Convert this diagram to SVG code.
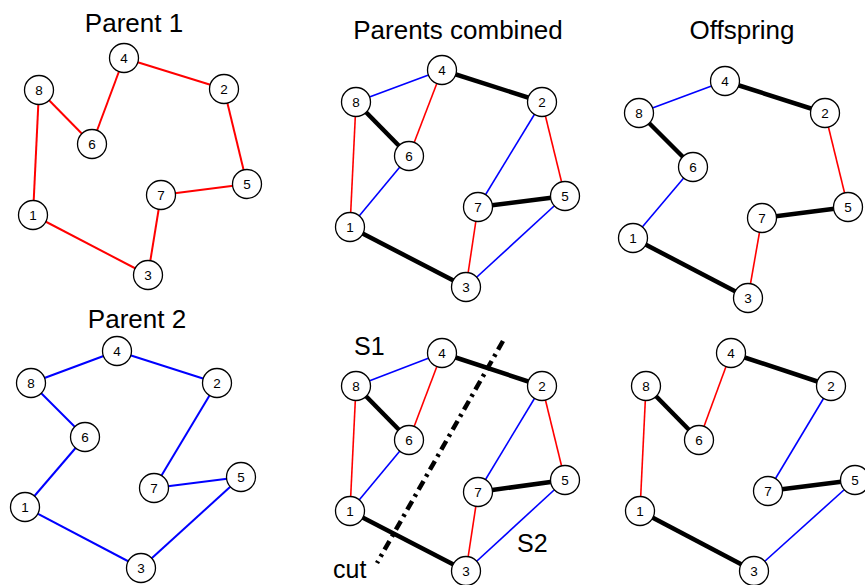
<svg xmlns="http://www.w3.org/2000/svg" width="865" height="585" viewBox="0 0 865 585">
  <style>
    .title { font-family: "Liberation Sans", Arial, sans-serif; font-size: 26px; fill: #000; text-anchor: middle; }
    .lbl { font-family: "Liberation Sans", Arial, sans-serif; font-size: 25px; fill: #000; }
    .node circle { fill: #fff; stroke: #000; stroke-width: 1.3; }
    .node text { font-family: "Liberation Sans", Arial, sans-serif; font-size: 13.5px; fill: #000; text-anchor: middle; dominant-baseline: central; }
    .red { stroke: #ff0000; stroke-width: 1.6; fill: none; }
    .red2 { stroke: #ff0000; stroke-width: 2; fill: none; }
    .blue { stroke: #0000ff; stroke-width: 1.6; fill: none; }
    .blue2 { stroke: #0000ff; stroke-width: 2; fill: none; }
    .both { stroke: #000; stroke-width: 4.5; fill: none; }
    .cut { stroke: #000; stroke-width: 4.5; fill: none; stroke-dasharray: 10 5 3 5; }
  </style>

  <!-- panel titles -->
  <text class="title" x="134" y="32">Parent 1</text>
  <text class="title" x="458" y="39">Parents combined</text>
  <text class="title" x="742" y="39">Offspring</text>
  <text class="title" x="137" y="328">Parent 2</text>
  <text class="lbl" x="354" y="355">S1</text>
  <text class="lbl" x="517" y="552">S2</text>
  <text class="lbl" x="333" y="578">cut</text>

  <g id="connectors">
    <!-- Parent 1: 1-8-6-4-2-5-7-3-1 -->
    <g id="p1-edges">
      <line class="red2" x1="33" y1="215" x2="39" y2="90"/>
      <line class="red2" x1="39" y1="90" x2="92" y2="144"/>
      <line class="red2" x1="92" y1="144" x2="124" y2="58"/>
      <line class="red2" x1="124" y1="58" x2="224" y2="89"/>
      <line class="red2" x1="224" y1="89" x2="247" y2="184"/>
      <line class="red2" x1="247" y1="184" x2="161" y2="195"/>
      <line class="red2" x1="161" y1="195" x2="148" y2="275"/>
      <line class="red2" x1="148" y1="275" x2="33" y2="215"/>
    </g>
    <!-- Parent 2: 8-4-2-7-5-3-1-6-8 -->
    <g id="p2-edges">
      <line class="blue2" x1="31" y1="383" x2="117" y2="351"/>
      <line class="blue2" x1="117" y1="351" x2="217" y2="383"/>
      <line class="blue2" x1="217" y1="383" x2="154" y2="488"/>
      <line class="blue2" x1="154" y1="488" x2="241" y2="477"/>
      <line class="blue2" x1="241" y1="477" x2="141" y2="568"/>
      <line class="blue2" x1="141" y1="568" x2="25" y2="507"/>
      <line class="blue2" x1="25" y1="507" x2="85" y2="437"/>
      <line class="blue2" x1="85" y1="437" x2="31" y2="383"/>
    </g>
    <!-- Parents combined -->
    <g id="pc-edges">
      <line class="blue" x1="356" y1="102" x2="442" y2="70"/>
      <line class="red" x1="442" y1="70" x2="409" y2="156"/>
      <line class="both" x1="442" y1="70" x2="542" y2="102"/>
      <line class="both" x1="356" y1="102" x2="409" y2="156"/>
      <line class="red" x1="356" y1="102" x2="350" y2="227"/>
      <line class="blue" x1="409" y1="156" x2="350" y2="227"/>
      <line class="both" x1="350" y1="227" x2="466" y2="287"/>
      <line class="blue" x1="542" y1="102" x2="478" y2="207"/>
      <line class="red" x1="542" y1="102" x2="565" y2="196"/>
      <line class="both" x1="478" y1="207" x2="565" y2="196"/>
      <line class="red" x1="478" y1="207" x2="466" y2="287"/>
      <line class="blue" x1="565" y1="196" x2="466" y2="287"/>
    </g>
    <!-- Offspring -->
    <g id="os-edges">
      <line class="blue" x1="639" y1="113" x2="725" y2="81"/>
      <line class="both" x1="725" y1="81" x2="825" y2="113"/>
      <line class="both" x1="639" y1="113" x2="693" y2="167"/>
      <line class="blue" x1="693" y1="167" x2="633" y2="238"/>
      <line class="both" x1="633" y1="238" x2="748" y2="298"/>
      <line class="red" x1="748" y1="298" x2="762" y2="218"/>
      <line class="both" x1="762" y1="218" x2="848" y2="207"/>
      <line class="red" x1="848" y1="207" x2="825" y2="113"/>
    </g>
    <!-- Cut view -->
    <g id="cut-edges">
      <line class="blue" x1="356" y1="386" x2="442" y2="353"/>
      <line class="red" x1="442" y1="353" x2="409" y2="440"/>
      <line class="both" x1="442" y1="353" x2="542" y2="386"/>
      <line class="both" x1="356" y1="386" x2="409" y2="440"/>
      <line class="red" x1="356" y1="386" x2="350" y2="511"/>
      <line class="blue" x1="409" y1="440" x2="350" y2="511"/>
      <line class="both" x1="350" y1="511" x2="466" y2="571"/>
      <line class="blue" x1="542" y1="386" x2="478" y2="492"/>
      <line class="red" x1="542" y1="386" x2="565" y2="480"/>
      <line class="both" x1="478" y1="492" x2="565" y2="480"/>
      <line class="red" x1="478" y1="492" x2="466" y2="571"/>
      <line class="blue" x1="565" y1="480" x2="466" y2="571"/>
      <line class="cut" x1="503" y1="341" x2="377" y2="563"/>
    </g>
    <!-- Second offspring -->
    <g id="os2-edges">
      <line class="both" x1="731" y1="353" x2="831" y2="386"/>
      <line class="red" x1="731" y1="353" x2="699" y2="440"/>
      <line class="both" x1="646" y1="386" x2="699" y2="440"/>
      <line class="red" x1="646" y1="386" x2="640" y2="511"/>
      <line class="both" x1="640" y1="511" x2="754" y2="571"/>
      <line class="blue" x1="754" y1="571" x2="855" y2="480"/>
      <line class="both" x1="855" y1="480" x2="768" y2="491"/>
      <line class="blue" x1="768" y1="491" x2="831" y2="386"/>
    </g>
  </g>

  <!-- Parent 1 nodes -->
  <g id="p1-n4" class="node"><circle cx="124" cy="58" r="14.5"/><text x="124" y="58">4</text></g>
  <g id="p1-n8" class="node"><circle cx="39" cy="90" r="14.5"/><text x="39" y="90">8</text></g>
  <g id="p1-n2" class="node"><circle cx="224" cy="89" r="14.5"/><text x="224" y="89">2</text></g>
  <g id="p1-n6" class="node"><circle cx="92" cy="144" r="14.5"/><text x="92" y="144">6</text></g>
  <g id="p1-n5" class="node"><circle cx="247" cy="184" r="14.5"/><text x="247" y="184">5</text></g>
  <g id="p1-n7" class="node"><circle cx="161" cy="195" r="14.5"/><text x="161" y="195">7</text></g>
  <g id="p1-n1" class="node"><circle cx="33" cy="215" r="14.5"/><text x="33" y="215">1</text></g>
  <g id="p1-n3" class="node"><circle cx="148" cy="275" r="14.5"/><text x="148" y="275">3</text></g>

  <!-- Parent 2 nodes -->
  <g id="p2-n4" class="node"><circle cx="117" cy="351" r="14.5"/><text x="117" y="351">4</text></g>
  <g id="p2-n8" class="node"><circle cx="31" cy="383" r="14.5"/><text x="31" y="383">8</text></g>
  <g id="p2-n2" class="node"><circle cx="217" cy="383" r="14.5"/><text x="217" y="383">2</text></g>
  <g id="p2-n6" class="node"><circle cx="85" cy="437" r="14.5"/><text x="85" y="437">6</text></g>
  <g id="p2-n5" class="node"><circle cx="241" cy="477" r="14.5"/><text x="241" y="477">5</text></g>
  <g id="p2-n7" class="node"><circle cx="154" cy="488" r="14.5"/><text x="154" y="488">7</text></g>
  <g id="p2-n1" class="node"><circle cx="25" cy="507" r="14.5"/><text x="25" y="507">1</text></g>
  <g id="p2-n3" class="node"><circle cx="141" cy="568" r="14.5"/><text x="141" y="568">3</text></g>

  <!-- Parents combined nodes -->
  <g id="pc-n4" class="node"><circle cx="442" cy="70" r="14.5"/><text x="442" y="70">4</text></g>
  <g id="pc-n8" class="node"><circle cx="356" cy="102" r="14.5"/><text x="356" y="102">8</text></g>
  <g id="pc-n2" class="node"><circle cx="542" cy="102" r="14.5"/><text x="542" y="102">2</text></g>
  <g id="pc-n6" class="node"><circle cx="409" cy="156" r="14.5"/><text x="409" y="156">6</text></g>
  <g id="pc-n5" class="node"><circle cx="565" cy="196" r="14.5"/><text x="565" y="196">5</text></g>
  <g id="pc-n7" class="node"><circle cx="478" cy="207" r="14.5"/><text x="478" y="207">7</text></g>
  <g id="pc-n1" class="node"><circle cx="350" cy="227" r="14.5"/><text x="350" y="227">1</text></g>
  <g id="pc-n3" class="node"><circle cx="466" cy="287" r="14.5"/><text x="466" y="287">3</text></g>

  <!-- Offspring nodes -->
  <g id="os-n4" class="node"><circle cx="725" cy="81" r="14.5"/><text x="725" y="81">4</text></g>
  <g id="os-n8" class="node"><circle cx="639" cy="113" r="14.5"/><text x="639" y="113">8</text></g>
  <g id="os-n2" class="node"><circle cx="825" cy="113" r="14.5"/><text x="825" y="113">2</text></g>
  <g id="os-n6" class="node"><circle cx="693" cy="167" r="14.5"/><text x="693" y="167">6</text></g>
  <g id="os-n5" class="node"><circle cx="848" cy="207" r="14.5"/><text x="848" y="207">5</text></g>
  <g id="os-n7" class="node"><circle cx="762" cy="218" r="14.5"/><text x="762" y="218">7</text></g>
  <g id="os-n1" class="node"><circle cx="633" cy="238" r="14.5"/><text x="633" y="238">1</text></g>
  <g id="os-n3" class="node"><circle cx="748" cy="298" r="14.5"/><text x="748" y="298">3</text></g>

  <!-- Cut view nodes -->
  <g id="cut-n4" class="node"><circle cx="442" cy="353" r="14.5"/><text x="442" y="353">4</text></g>
  <g id="cut-n8" class="node"><circle cx="356" cy="386" r="14.5"/><text x="356" y="386">8</text></g>
  <g id="cut-n2" class="node"><circle cx="542" cy="386" r="14.5"/><text x="542" y="386">2</text></g>
  <g id="cut-n6" class="node"><circle cx="409" cy="440" r="14.5"/><text x="409" y="440">6</text></g>
  <g id="cut-n5" class="node"><circle cx="565" cy="480" r="14.5"/><text x="565" y="480">5</text></g>
  <g id="cut-n7" class="node"><circle cx="478" cy="492" r="14.5"/><text x="478" y="492">7</text></g>
  <g id="cut-n1" class="node"><circle cx="350" cy="511" r="14.5"/><text x="350" y="511">1</text></g>
  <g id="cut-n3" class="node"><circle cx="466" cy="571" r="14.5"/><text x="466" y="571">3</text></g>

  <!-- Second offspring nodes -->
  <g id="os2-n4" class="node"><circle cx="731" cy="353" r="14.5"/><text x="731" y="353">4</text></g>
  <g id="os2-n8" class="node"><circle cx="646" cy="386" r="14.5"/><text x="646" y="386">8</text></g>
  <g id="os2-n2" class="node"><circle cx="831" cy="386" r="14.5"/><text x="831" y="386">2</text></g>
  <g id="os2-n6" class="node"><circle cx="699" cy="440" r="14.5"/><text x="699" y="440">6</text></g>
  <g id="os2-n5" class="node"><circle cx="855" cy="480" r="14.5"/><text x="855" y="480">5</text></g>
  <g id="os2-n7" class="node"><circle cx="768" cy="491" r="14.5"/><text x="768" y="491">7</text></g>
  <g id="os2-n1" class="node"><circle cx="640" cy="511" r="14.5"/><text x="640" y="511">1</text></g>
  <g id="os2-n3" class="node"><circle cx="754" cy="571" r="14.5"/><text x="754" y="571">3</text></g>
</svg>
